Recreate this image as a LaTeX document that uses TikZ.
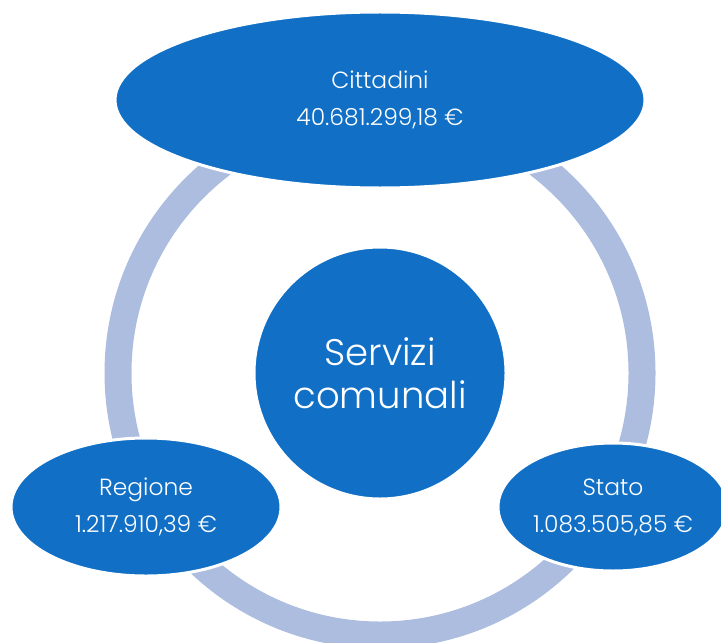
\documentclass[tikz,border=0pt]{standalone}
\usepackage{fontspec}
\setmainfont{Poppins}[UprightFont={* Light}]
\usetikzlibrary{shapes.geometric}
\definecolor{flowblue}{RGB}{17,112,198}
\definecolor{ringgrey}{RGB}{173,189,224}
\tikzset{x=0.5pt, y=-0.5pt,
  source/.style={ellipse, fill=flowblue, draw=white, line width=1.5pt, inner sep=0pt,
    text=white, align=center, font=\fontsize{11.7}{18.5}\selectfont},
  hubcircle/.style={circle, fill=flowblue, draw=white, line width=1.5pt, inner sep=0pt,
    minimum size=126pt, text=white, align=center, font=\fontsize{18.5}{21.5}\selectfont},
  ring/.style={draw=ringgrey, line width=13.5pt}}

\begin{document}
\begin{tikzpicture}
    \clip (0,0) rectangle (721,642);
    \coordinate (mid) at (380,373);
    \draw[ring] (mid) circle[radius=131pt];
    \node[hubcircle] (core) at (mid) {Servizi\\comunali};
    \node[source, minimum width=265pt, minimum height=88pt] (citt) at (380,100) {Cittadini\\40.681.299,18 €};
    \node[source, minimum width=135pt, minimum height=69pt] (reg) at (146,507) {Regione\\1.217.910,39 €};
    \node[source, minimum width=115pt, minimum height=64pt] (stato) at (613,507) {Stato\\1.083.505,85 €};
\end{tikzpicture}
\end{document}
